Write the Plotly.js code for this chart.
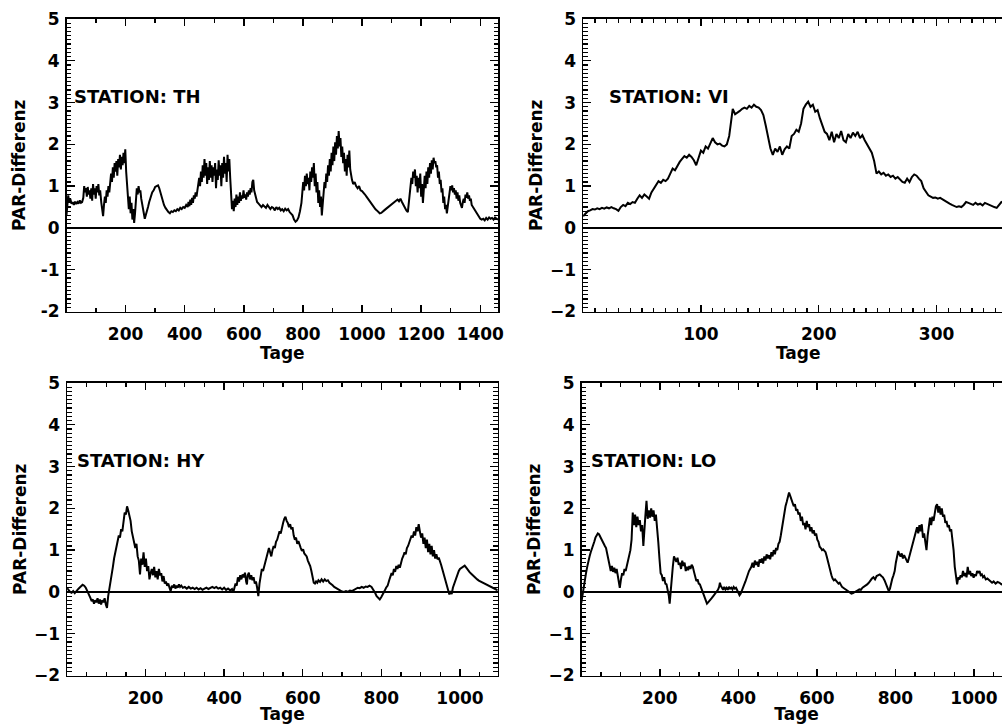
<!DOCTYPE html>
<html>
<head>
<meta charset="utf-8">
<script src="https://cdn.plot.ly/plotly-3.0.1.min.js"></script>
<style>
  html, body { margin: 0; padding: 0; background: #fff; overflow: hidden; }
  #frame { width: 1002px; height: 724px; overflow: hidden; position: relative; }
</style>
</head>
<body>
<div id="frame"><div id="chart"></div></div>
<script>
// PAR-Differenz per station over days (Tage)

// Station TH (four years)
const thDays = [
  0,3,6,9,13,17,21,25,29,33,
  37,41,45,49,53,57,60,63,66,69,
  72,75,78,81,84,87,90,93,96,99,
  102,105,108,111,114,118,121,124,127,130,
  133,136,139,142,145,148,151,154,157,160,
  163,166,169,172,175,178,181,184,187,190,
  193,196,199,202,205,208,211,214,217,220,
  223,226,229,232,235,238,241,244,247,250,
  253,256,259,262,265,268,272,276,280,285,
  290,295,300,305,310,314,318,322,326,330,
  335,340,345,350,355,360,365,370,375,380,
  385,390,395,400,405,410,413,416,419,422,
  425,428,431,434,437,440,443,446,449,452,
  455,458,461,464,467,470,473,476,479,482,
  485,488,491,494,497,500,503,506,509,512,
  515,518,521,524,527,530,533,536,539,542,
  545,548,551,554,557,560,563,566,569,572,
  575,578,581,584,587,590,593,596,599,602,
  605,608,611,614,617,620,623,626,629,632,
  635,638,641,645,650,655,660,665,670,675,
  680,685,690,695,700,705,710,715,720,725,
  730,735,740,745,750,755,760,765,770,775,
  780,785,790,795,798,801,804,807,810,813,
  816,819,822,825,828,831,834,837,840,843,
  846,849,852,855,858,861,864,867,870,873,
  876,879,882,885,888,891,894,897,900,903,
  906,909,912,915,918,921,924,927,930,933,
  936,939,942,945,948,951,954,957,960,963,
  966,970,975,980,985,990,995,1000,1005,1010,
  1015,1020,1025,1030,1035,1040,1045,1050,1055,1060,
  1065,1070,1075,1080,1085,1090,1095,1100,1105,1110,
  1115,1120,1125,1130,1135,1140,1145,1150,1155,1158,
  1161,1164,1167,1170,1173,1176,1179,1182,1185,1188,
  1191,1194,1197,1200,1203,1206,1209,1212,1215,1218,
  1221,1224,1227,1230,1233,1236,1239,1242,1245,1248,
  1251,1254,1257,1260,1263,1266,1269,1272,1275,1278,
  1281,1284,1287,1290,1293,1296,1299,1302,1305,1308,
  1311,1314,1317,1320,1323,1326,1329,1332,1335,1338,
  1341,1344,1347,1350,1353,1356,1359,1362,1365,1368,
  1371,1375,1380,1385,1390,1395,1400,1405,1410,1415,
  1420,1425,1430,1435,1440,1445,1450,1455,1460
];
const thPAR = [
  0.30,0.55,0.78,0.62,0.70,0.58,0.62,0.55,0.63,0.57,
  0.62,0.58,0.66,0.60,0.62,0.72,1.00,0.85,0.95,0.75,
  0.98,0.80,0.90,0.70,0.95,0.65,1.05,0.80,0.95,0.70,
  1.00,0.85,1.05,0.78,0.90,0.60,0.45,0.28,0.55,0.75,
  0.60,0.90,0.75,1.00,0.85,1.05,1.30,1.10,1.45,1.20,
  1.55,1.35,1.60,1.25,1.65,1.45,1.75,1.40,1.70,1.50,
  1.80,1.55,1.88,1.35,1.00,0.70,0.45,0.75,0.35,0.60,
  0.20,0.45,0.12,0.35,0.70,0.95,0.80,1.00,0.85,0.90,
  0.70,0.55,0.40,0.30,0.22,0.30,0.38,0.50,0.62,0.75,
  0.85,0.90,0.98,1.00,1.02,0.95,0.85,0.72,0.62,0.55,
  0.48,0.42,0.38,0.35,0.40,0.38,0.42,0.40,0.45,0.42,
  0.48,0.45,0.50,0.48,0.55,0.50,0.62,0.52,0.68,0.55,
  0.72,0.60,0.78,0.70,0.85,0.75,0.95,1.05,1.20,1.00,
  1.35,1.10,1.50,1.20,1.65,1.25,1.55,1.05,1.45,1.15,
  1.60,1.20,1.50,1.10,1.45,1.25,1.55,0.95,1.40,1.15,
  1.62,1.25,1.50,1.00,1.55,1.20,1.70,1.30,1.55,1.10,
  1.75,1.35,1.65,1.20,0.80,0.45,0.65,0.40,0.70,0.50,
  0.80,0.55,0.75,0.60,0.85,0.65,0.78,0.70,0.90,0.72,
  0.80,0.68,0.85,0.75,0.90,0.80,0.95,0.85,1.10,1.15,
  0.90,0.80,0.70,0.62,0.58,0.55,0.50,0.55,0.52,0.48,
  0.55,0.50,0.45,0.50,0.48,0.42,0.50,0.45,0.48,0.42,
  0.45,0.40,0.46,0.42,0.45,0.38,0.35,0.30,0.20,0.15,
  0.18,0.25,0.40,0.60,0.85,1.10,0.90,1.25,1.00,1.30,
  1.05,1.20,0.90,1.35,1.10,1.45,1.20,1.55,1.00,1.30,
  0.85,1.10,0.60,0.90,0.50,0.75,0.30,0.55,0.80,1.10,
  0.95,1.30,1.10,1.50,1.25,1.65,1.35,1.80,1.50,1.95,
  1.60,2.05,1.75,2.20,1.90,2.32,1.95,2.15,1.70,1.95,
  1.55,1.80,1.35,1.65,1.25,1.75,1.45,1.85,1.40,1.20,
  1.15,1.05,1.10,1.00,0.95,1.00,0.90,0.88,0.85,0.80,
  0.75,0.70,0.62,0.58,0.55,0.50,0.45,0.42,0.38,0.35,
  0.36,0.38,0.42,0.45,0.48,0.52,0.55,0.58,0.60,0.62,
  0.65,0.68,0.64,0.70,0.62,0.55,0.48,0.42,0.38,0.55,
  0.80,1.00,1.20,1.05,1.35,1.20,1.40,1.00,1.25,0.85,
  1.20,0.95,1.30,0.75,1.05,0.60,0.95,1.25,0.95,1.35,
  1.05,1.45,1.20,1.55,1.30,1.62,1.40,1.68,1.55,1.60,
  1.45,1.50,1.20,1.35,1.05,1.15,0.85,0.95,0.60,0.75,
  0.45,0.55,0.35,0.50,0.70,0.85,1.00,0.90,1.02,0.85,
  0.95,0.80,0.90,0.70,0.85,0.65,0.78,0.60,0.55,0.48,
  0.62,0.70,0.60,0.80,0.72,0.85,0.70,0.78,0.65,0.70,
  0.55,0.50,0.45,0.38,0.32,0.25,0.22,0.20,0.22,0.18,
  0.24,0.20,0.25,0.22,0.24,0.20,0.25,0.22,0.20
];

// Station VI (one year)
const viDays = [
  0,2,4,6,8,10,12,14,16,18,
  20,22,24,26,28,30,32,34,36,38,
  40,42,44,46,48,50,52,54,56,58,
  60,62,64,66,68,70,72,74,76,78,
  80,82,84,86,88,90,92,94,96,98,
  100,102,104,106,108,110,112,114,116,118,
  120,122,124,126,127,129,131,133,135,137,
  139,141,143,145,147,149,151,153,155,157,
  159,161,163,165,167,169,171,173,175,177,
  179,181,183,185,187,189,191,193,195,197,
  199,201,203,205,207,209,211,213,215,217,
  219,221,223,225,227,229,231,233,235,237,
  239,241,243,245,247,249,251,253,255,257,
  259,261,263,265,267,269,271,273,275,277,
  279,281,283,285,287,289,291,293,295,297,
  299,301,303,305,307,309,311,313,315,317,
  319,321,323,325,327,329,331,333,335,337,
  339,341,343,345,347,349,351,353,355,357,
  359,361,363,365
];
const viPAR = [
  0.28,0.35,0.40,0.42,0.45,0.44,0.47,0.45,0.48,0.46,
  0.49,0.47,0.50,0.47,0.45,0.41,0.50,0.55,0.52,0.60,
  0.57,0.62,0.60,0.70,0.78,0.72,0.80,0.75,0.70,0.85,
  0.95,1.05,1.12,1.08,1.15,1.12,1.18,1.30,1.42,1.38,
  1.50,1.58,1.65,1.72,1.68,1.75,1.70,1.62,1.50,1.70,
  1.85,1.80,1.95,1.90,2.05,2.15,2.05,2.00,2.02,1.97,
  1.95,2.00,2.20,2.60,2.85,2.72,2.75,2.80,2.85,2.88,
  2.85,2.92,2.88,2.95,2.90,2.88,2.82,2.70,2.45,2.15,
  1.90,1.75,1.90,1.82,1.95,1.75,1.88,1.95,1.90,2.20,
  2.25,2.35,2.30,2.50,2.85,2.95,3.02,2.90,2.95,2.78,
  2.82,2.62,2.45,2.30,2.25,2.10,2.30,2.05,2.25,2.15,
  2.32,2.10,2.05,2.25,2.15,2.28,2.20,2.30,2.15,2.22,
  2.10,2.00,1.90,1.80,1.60,1.30,1.35,1.28,1.32,1.25,
  1.28,1.22,1.25,1.18,1.22,1.15,1.10,1.08,1.18,1.10,
  1.22,1.28,1.25,1.18,1.12,0.95,0.85,0.78,0.75,0.72,
  0.73,0.70,0.72,0.68,0.65,0.60,0.58,0.55,0.52,0.50,
  0.52,0.50,0.55,0.62,0.60,0.58,0.55,0.60,0.56,0.58,
  0.54,0.60,0.57,0.55,0.52,0.50,0.48,0.55,0.62,0.60,
  0.58,0.62,0.60,0.58
];

// Station HY (three years)
const hyDays = [
  0,4,8,12,16,20,24,28,32,36,
  40,44,48,52,56,60,63,66,69,72,
  75,78,81,84,87,90,93,96,99,102,
  105,108,111,114,117,120,123,126,129,132,
  135,138,141,144,147,150,153,156,159,162,
  165,168,171,174,177,180,183,186,189,192,
  195,198,201,204,207,210,213,216,219,222,
  225,228,231,234,237,240,243,246,249,252,
  255,258,261,264,267,270,273,276,279,282,
  285,288,291,295,300,305,310,315,320,325,
  330,335,340,345,350,355,360,365,370,375,
  380,385,390,395,400,405,410,415,420,423,
  426,429,432,435,438,441,444,447,450,453,
  456,458,460,463,466,469,472,475,478,481,
  484,487,490,493,496,499,502,505,508,511,
  514,517,520,523,526,529,532,535,538,541,
  544,547,550,553,556,559,562,565,568,571,
  574,577,580,583,586,589,592,595,598,601,
  604,607,610,613,616,619,622,625,628,631,
  634,637,640,644,648,652,656,660,664,668,
  672,676,680,684,688,692,696,700,705,710,
  715,720,725,730,735,740,745,750,755,760,
  765,770,775,780,784,788,792,796,800,804,
  808,812,816,820,823,826,829,832,835,838,
  841,844,847,850,853,856,859,862,865,868,
  871,874,877,880,883,886,889,892,895,898,
  901,904,907,910,913,916,919,922,925,928,
  931,934,937,940,943,946,949,952,955,958,
  961,964,967,970,973,976,979,982,985,988,
  991,994,997,1000,1004,1008,1012,1016,1020,1024,
  1028,1032,1036,1040,1044,1048,1052,1056,1060,1064,
  1068,1072,1076,1080,1084,1088,1092,1096
];
const hyPAR = [
  0.10,0.05,0.00,-0.02,0.02,-0.03,0.03,0.06,0.10,0.14,
  0.17,0.15,0.10,0.02,-0.05,-0.15,-0.22,-0.18,-0.28,-0.20,
  -0.25,-0.15,-0.28,-0.18,-0.30,-0.20,-0.25,-0.15,-0.30,-0.38,
  -0.10,0.05,0.20,0.40,0.60,0.80,0.95,1.10,1.20,1.35,
  1.30,1.50,1.45,1.70,1.90,1.85,2.05,1.95,1.80,1.70,
  1.45,1.30,1.20,1.05,1.15,0.85,0.75,0.42,0.80,0.65,
  0.95,0.60,0.80,0.50,0.62,0.30,0.45,0.55,0.40,0.60,
  0.35,0.50,0.30,0.55,0.40,0.45,0.25,0.38,0.20,0.25,
  0.15,0.20,0.10,0.02,0.15,0.10,0.18,0.08,0.15,0.10,
  0.18,0.12,0.15,0.10,0.12,0.08,0.12,0.08,0.10,0.07,
  0.10,0.06,0.09,0.05,0.08,0.10,0.07,0.10,0.12,0.09,
  0.12,0.08,0.10,0.06,0.10,0.05,0.08,0.04,0.07,-0.02,
  0.10,0.20,0.15,0.35,0.25,0.40,0.30,0.42,0.35,0.46,
  0.25,0.18,0.40,0.46,0.30,0.40,0.28,0.35,0.20,0.25,
  0.10,-0.10,0.20,0.45,0.55,0.50,0.62,0.75,0.85,0.95,
  1.05,0.95,0.85,1.00,1.10,1.05,1.20,1.25,1.35,1.45,
  1.40,1.55,1.65,1.75,1.80,1.70,1.65,1.55,1.62,1.50,
  1.55,1.35,1.25,1.30,1.15,1.22,1.10,1.05,0.98,1.02,
  0.92,0.88,0.85,0.75,0.68,0.62,0.50,0.38,0.22,0.20,
  0.25,0.22,0.28,0.24,0.30,0.25,0.30,0.26,0.28,0.22,
  0.20,0.16,0.12,0.10,0.08,0.04,0.02,0.01,0.00,0.02,
  0.00,0.03,0.02,0.05,0.08,0.10,0.09,0.12,0.10,0.13,
  0.12,0.15,0.12,0.05,-0.02,-0.10,-0.15,-0.18,-0.12,-0.06,
  0.02,0.10,0.15,0.28,0.35,0.45,0.40,0.55,0.48,0.62,
  0.55,0.65,0.58,0.70,0.80,0.86,0.95,0.90,1.05,1.10,
  1.20,1.25,1.35,1.30,1.45,1.35,1.55,1.45,1.62,1.45,
  1.30,1.40,1.15,1.30,1.05,1.25,0.95,1.15,0.90,1.10,
  0.85,1.00,0.80,0.90,0.78,0.82,0.75,0.65,0.55,0.45,
  0.35,0.25,0.15,0.05,-0.06,0.02,-0.05,0.10,0.18,0.28,
  0.38,0.45,0.50,0.55,0.58,0.62,0.63,0.58,0.52,0.48,
  0.44,0.40,0.36,0.32,0.30,0.27,0.25,0.22,0.20,0.18,
  0.16,0.14,0.12,0.10,0.08,0.07,0.05,0.04
];

// Station LO (three years)
const loDays = [
  0,3,6,9,12,15,18,21,24,27,
  30,33,36,39,42,45,48,51,54,57,
  60,63,66,69,72,75,78,81,84,87,
  90,93,96,98,101,104,107,110,113,116,
  119,122,125,128,131,134,137,140,143,146,
  149,152,155,158,160,163,166,169,172,175,
  178,181,184,187,190,193,196,199,202,205,
  208,211,214,217,220,223,225,227,230,233,
  236,239,242,245,248,251,254,257,260,263,
  266,269,272,275,278,281,284,287,290,293,
  296,299,302,305,308,311,314,317,320,323,
  326,329,332,336,340,344,348,351,353,355,
  358,361,364,367,370,373,376,379,382,385,
  388,391,394,397,400,403,406,409,412,415,
  418,421,424,427,430,433,436,439,442,445,
  448,451,454,457,460,463,466,469,472,475,
  478,481,484,487,490,493,496,499,502,505,
  508,511,514,517,520,523,526,529,532,535,
  538,541,544,547,550,553,556,559,562,565,
  568,571,574,577,580,583,586,589,592,595,
  598,601,604,607,610,613,616,619,622,625,
  628,631,634,637,640,643,646,649,652,655,
  658,661,664,667,670,673,676,680,684,688,
  692,696,700,704,708,712,716,720,724,728,
  732,736,740,744,748,752,756,760,764,768,
  772,776,780,783,786,789,792,795,798,801,
  804,807,810,813,816,819,822,825,828,831,
  834,837,840,843,846,849,852,855,858,861,
  864,867,870,873,876,879,882,885,888,891,
  894,897,900,903,906,909,912,915,918,921,
  924,927,930,933,936,939,942,945,948,951,
  954,957,960,963,966,969,972,975,978,981,
  984,987,990,993,996,999,1002,1005,1008,1011,
  1014,1017,1020,1023,1026,1030,1034,1038,1042,1046,
  1050,1055,1060,1065,1070,1075,1080,1085,1090,1096
];
const loPAR = [
  -0.26,-0.05,0.10,0.30,0.45,0.60,0.75,0.85,0.95,1.02,
  1.10,1.20,1.30,1.36,1.40,1.38,1.32,1.26,1.18,1.15,
  1.10,1.05,0.90,0.75,0.60,0.50,0.62,0.48,0.58,0.45,
  0.55,0.35,0.25,0.10,0.30,0.45,0.40,0.55,0.50,0.62,
  0.70,0.85,1.00,1.25,1.90,1.60,1.85,1.55,1.80,1.60,
  1.72,1.45,1.60,1.10,1.55,1.80,2.18,1.75,1.95,1.78,
  2.00,1.80,1.95,1.70,1.85,1.60,1.20,0.80,0.45,0.40,
  0.26,0.35,0.20,0.18,0.05,-0.10,-0.28,0.00,0.26,0.60,
  0.85,0.80,0.72,0.82,0.65,0.70,0.55,0.75,0.62,0.70,
  0.50,0.60,0.52,0.62,0.55,0.65,0.60,0.48,0.35,0.26,
  0.30,0.20,0.18,0.10,0.02,-0.08,-0.15,-0.22,-0.28,-0.25,
  -0.22,-0.20,-0.15,-0.10,-0.05,0.02,0.05,0.12,0.22,0.15,
  0.10,0.05,0.12,0.06,0.10,0.05,0.12,0.08,0.10,0.06,
  0.12,0.08,0.10,0.05,0.00,-0.08,-0.04,0.05,0.08,0.18,
  0.25,0.35,0.45,0.50,0.55,0.60,0.70,0.58,0.75,0.65,
  0.72,0.60,0.78,0.70,0.80,0.68,0.85,0.75,0.90,0.80,
  0.88,0.78,0.95,0.85,1.00,0.90,1.05,1.00,1.15,1.20,
  1.35,1.55,1.70,1.85,2.05,2.15,2.25,2.38,2.30,2.20,
  2.15,2.05,2.10,1.95,1.98,1.85,1.90,1.70,1.80,1.60,
  1.65,1.50,1.70,1.55,1.62,1.45,1.55,1.40,1.48,1.35,
  1.40,1.25,1.20,1.08,1.05,1.00,1.02,0.98,0.95,0.85,
  0.72,0.60,0.50,0.40,0.32,0.28,0.30,0.26,0.24,0.20,
  0.22,0.16,0.12,0.10,0.08,0.06,0.04,0.00,-0.02,-0.04,
  -0.03,0.00,0.02,0.04,0.06,0.05,0.10,0.12,0.15,0.18,
  0.22,0.28,0.32,0.35,0.30,0.38,0.40,0.42,0.38,0.35,
  0.28,0.20,0.10,0.02,0.08,0.22,0.32,0.40,0.50,0.70,
  0.85,0.98,0.90,0.85,0.92,0.80,0.88,0.82,0.75,0.70,
  0.80,0.90,1.00,1.15,1.25,1.35,1.45,1.55,1.40,1.60,
  1.45,1.62,1.30,1.40,1.20,1.00,1.35,1.55,1.78,1.60,
  1.80,1.70,1.95,2.05,2.10,1.90,2.05,1.85,2.00,1.80,
  1.85,1.65,1.70,1.55,1.60,1.45,1.50,1.30,1.00,0.60,
  0.30,0.18,0.35,0.30,0.40,0.35,0.50,0.38,0.45,0.35,
  0.60,0.42,0.50,0.38,0.45,0.34,0.42,0.38,0.50,0.45,
  0.50,0.40,0.42,0.35,0.38,0.30,0.32,0.28,0.25,0.22,
  0.25,0.20,0.24,0.22,0.18,0.20,0.15,0.18,0.16,0.15
];

// Axis extents and tick spacing (major / minor); day axes start just past 0
// so that no "0" label is printed at the corner
const yRange = [-2, 5];
const yMajor = 1, yMinor = 0.1;
const thRange = [0.5, 1460];
const viRange = [0.1, 365];
const threeYearRange = [0.5, 1096];
const stationNames = ['TH', 'VI', 'HY', 'LO'];

// Figure geometry (px); the right-hand column runs past the visible frame
const W = 1016, H = 724;
const colX = [[66.6, 498.0], [583.2, 1013.2], [67.1, 497.7], [581.5, 1011.7]];
const rowY = [[19, 311.5], [19, 311.5], [383, 675.5], [383, 675.5]];

const FONT = 'DejaVu Sans, Liberation Sans, Arial, sans-serif';
const boldFont = (size) => ({ family: FONT, size: size, color: '#000', weight: 'bold' });

const panels = [
  { x: thDays, y: thPAR, range: thRange, major: 200, minor: 100 },
  { x: viDays, y: viPAR, range: viRange, major: 100, minor: 10 },
  { x: hyDays, y: hyPAR, range: threeYearRange, major: 200, minor: 50 },
  { x: loDays, y: loPAR, range: threeYearRange, major: 200, minor: 50 }
];

const data = [];
const layout = {
  width: W, height: H,
  margin: { l: 0, r: 0, t: 0, b: 0 },
  paper_bgcolor: '#fff', plot_bgcolor: '#fff',
  showlegend: false,
  annotations: []
};

panels.forEach((p, i) => {
  const n = i + 1;
  const xa = 'xaxis' + (n === 1 ? '' : n);
  const ya = 'yaxis' + (n === 1 ? '' : n);
  const xr = 'x' + (n === 1 ? '' : n);
  const yr = 'y' + (n === 1 ? '' : n);

  data.push({
    type: 'scatter', mode: 'lines',
    x: p.x, y: p.y, xaxis: xr, yaxis: yr,
    line: { color: '#000', width: 2 },
    hoverinfo: 'skip'
  });

  layout[xa] = {
    domain: [colX[i][0] / W, colX[i][1] / W],
    anchor: yr,
    range: p.range,
    showline: true, linecolor: '#000', linewidth: 1.6, mirror: 'ticks',
    ticks: 'inside', ticklen: 7, tickwidth: 1.4, tickcolor: '#000',
    tickmode: 'linear', tick0: 0, dtick: p.major,
    minor: { tickmode: 'linear', tick0: 0, dtick: p.minor, ticks: 'inside', ticklen: 4, tickwidth: 1.3, tickcolor: '#000', showgrid: false },
    showgrid: false, zeroline: false,
    tickfont: boldFont(17),
    ticklabelstandoff: 6,
    title: { text: 'Tage', font: boldFont(17), standoff: 2 }
  };

  layout[ya] = {
    domain: [1 - rowY[i][1] / H, 1 - rowY[i][0] / H],
    anchor: xr,
    range: yRange,
    showline: true, linecolor: '#000', linewidth: 1.6, mirror: 'ticks',
    ticks: 'inside', ticklen: 8, tickwidth: 1.4, tickcolor: '#000',
    tickmode: 'linear', tick0: 0, dtick: yMajor,
    minor: { tickmode: 'linear', tick0: 0, dtick: yMinor, ticks: 'inside', ticklen: 4.5, tickwidth: 1.2, tickcolor: '#000', showgrid: false },
    showgrid: false,
    zeroline: true, zerolinecolor: '#000', zerolinewidth: 1.4,
    tickfont: boldFont(17),
    ticklabelstandoff: 2,
    title: { text: 'PAR-Differenz', font: boldFont(17), standoff: 3 }
  };

  layout.annotations.push({
    xref: xr, yref: yr, x: 20, y: 3.14,
    xanchor: 'left', yanchor: 'middle',
    text: 'STATION: ' + stationNames[i],
    showarrow: false,
    font: boldFont(18)
  });
});

// Negative tick labels are printed with a plain hyphen
function plainMinus(gd) {
  gd.querySelectorAll('.ytick text').forEach((t) => {
    t.textContent = t.textContent.replace('\u2212', '-');
  });
  return gd;
}

Plotly.newPlot('chart', data, layout, { displayModeBar: false, staticPlot: true })
  .then(plainMinus);
</script>
</body>
</html>
